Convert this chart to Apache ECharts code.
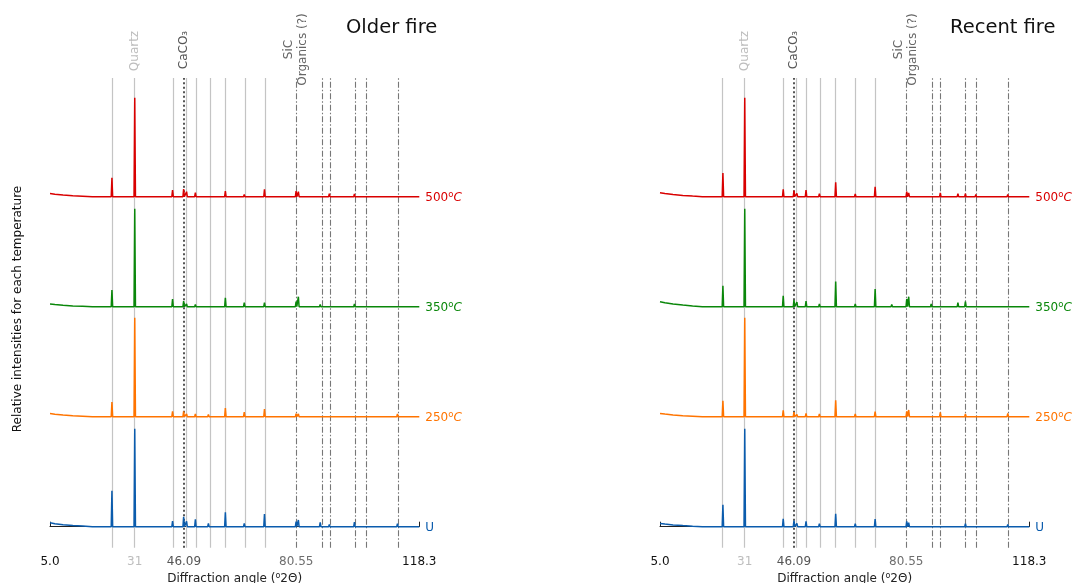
<!DOCTYPE html>
<html>
<head>
<meta charset="utf-8">
<script src="https://cdn.jsdelivr.net/npm/echarts@6/dist/echarts.min.js"></script>
<style>html,body{margin:0;padding:0;background:#fff}#c{width:1072px;height:583px}</style>
</head>
<body>
<div id="c"></div>
<script>
// ---------------- data ----------------
const xMin = 5.0, xMax = 118.3;
const tickValues = [5.0, 31, 46.09, 80.55, 118.3];
const tickLabels = ['5.0', '31', '46.09', '80.55', '118.3'];
const panelTitles = ['Older fire', 'Recent fire'];
const seriesNames = ['U', '250', '350', '500'];   // temperatures in oC (U = unheated)

const quartzLines = [24.2, 31, 42.75, 46.9, 49.75, 54.05, 58.9, 64.95, 71.0];
const caco3Lines = [46.09];
const sicLines = [80.55, 88.55, 91.05, 98.55, 102.05, 111.7];

// Older fire: peak positions (°2Θ) and heights (relative)
const peaksPosOld = [24.0, 31.0, 42.6, 46.0, 46.9, 49.6, 53.6, 58.8, 64.6, 70.8, 75.9, 80.5, 81.2, 87.9, 90.7, 93.5, 96.3, 98.4, 101.7, 106.0, 111.6, 117.8];
const oldU   = [0.36, 0.98, 0.057, 0.10, 0.053, 0.073, 0.033, 0.143, 0.033, 0.127, 0.013, 0.05, 0.067, 0.043, 0.023, 0.01, 0.017, 0.047, 0.02, 0.0, 0.03, 0.017];
const old250 = [0.147, 0.99, 0.053, 0.053, 0.027, 0.027, 0.023, 0.087, 0.047, 0.077, 0.013, 0.03, 0.027, 0.01, 0.017, 0.007, 0.02, 0.02, 0.017, 0.01, 0.027, 0.0];
const old350 = [0.167, 0.98, 0.077, 0.057, 0.027, 0.023, 0.017, 0.09, 0.04, 0.04, 0.017, 0.05, 0.10, 0.023, 0.02, 0.01, 0.01, 0.027, 0.017, 0.0, 0.02, 0.007];
const old500 = [0.19, 0.99, 0.067, 0.077, 0.05, 0.04, 0.02, 0.057, 0.023, 0.073, 0.007, 0.057, 0.05, 0.01, 0.03, 0.013, 0.013, 0.027, 0.01, 0.0, 0.017, 0.007];
const oldStartU   = [[5.0, 0.04], [6.5, 0.03], [9, 0.02], [12, 0.012], [15, 0.006], [18, 0.0]];
const oldStart250 = [[5.0, 0.033], [6.5, 0.025], [9, 0.016], [12, 0.01], [15, 0.005], [18, 0.0]];
const oldStart350 = [[5.0, 0.027], [6.5, 0.022], [9, 0.014], [12, 0.008], [15, 0.004], [18, 0.0]];
const oldStart500 = [[5.0, 0.033], [6.5, 0.025], [9, 0.016], [12, 0.01], [15, 0.005], [18, 0.0]];

// Recent fire
const peaksPosNew = [24.3, 31.0, 42.8, 46.1, 47.0, 49.8, 53.9, 58.9, 64.9, 71.0, 76.1, 80.7, 81.3, 88.2, 91.0, 93.7, 96.4, 98.7, 101.9, 111.7, 117.8];
const newU   = [0.22, 0.98, 0.08, 0.06, 0.033, 0.053, 0.03, 0.13, 0.03, 0.077, 0.013, 0.053, 0.04, 0.013, 0.017, 0.01, 0.013, 0.03, 0.013, 0.023, 0.01];
const new250 = [0.16, 0.99, 0.063, 0.047, 0.023, 0.033, 0.027, 0.163, 0.027, 0.05, 0.013, 0.053, 0.067, 0.013, 0.043, 0.013, 0.017, 0.027, 0.02, 0.033, 0.0];
const new350 = [0.21, 0.98, 0.11, 0.067, 0.047, 0.057, 0.027, 0.253, 0.027, 0.177, 0.023, 0.077, 0.10, 0.027, 0.017, 0.017, 0.04, 0.05, 0.02, 0.017, 0.007];
const new500 = [0.237, 0.99, 0.073, 0.06, 0.033, 0.067, 0.03, 0.143, 0.027, 0.10, 0.01, 0.05, 0.037, 0.013, 0.037, 0.013, 0.03, 0.03, 0.023, 0.023, 0.0];
const newStartU   = [[5.0, 0.033], [6.5, 0.027], [9, 0.018], [12, 0.011], [15, 0.005], [18, 0.0]];
const newStart250 = [[5.0, 0.033], [6.5, 0.026], [9, 0.017], [12, 0.01], [15, 0.005], [18, 0.0]];
const newStart350 = [[5.0, 0.05], [6.5, 0.04], [9, 0.027], [12, 0.016], [15, 0.007], [18, 0.0]];
const newStart500 = [[5.0, 0.04], [6.5, 0.032], [9, 0.021], [12, 0.013], [15, 0.006], [18, 0.0]];

// ---------------- layout / style ----------------
const FONT = 'DejaVu Sans';
const colors = ['#0b5cad', '#ff7400', '#0a870a', '#d90000'];
const offsets = [0, 1.1, 2.2, 3.3];
const peakHalfWidth = 0.22;
const gridLefts = [50, 660];
const gridTop = 78, gridW = 369.3, gridH = 469.7;

const panels = [
  {pos: peaksPosOld, heights: [oldU, old250, old350, old500], starts: [oldStartU, oldStart250, oldStart350, oldStart500]},
  {pos: peaksPosNew, heights: [newU, new250, new350, new500], starts: [newStartU, newStart250, newStart350, newStart500]}
];

function buildTrace(start, pos, h, off) {
  const pts = start.map(p => [p[0], p[1] + off]);
  for (let i = 0; i < pos.length; i++) {
    pts.push([pos[i] - peakHalfWidth, off], [pos[i], h[i] + off], [pos[i] + peakHalfWidth, off]);
  }
  pts.push([xMax, off]);
  return pts;
}

const tickColors = ['#111', '#bdbdbd', '#555', '#6e6e6e', '#111'];
const rich = {};
tickColors.forEach((c, i) => { rich['t' + i] = {color: c, fontSize: 12, fontFamily: FONT}; });

const grids = [], xAxes = [], yAxes = [], series = [];
panels.forEach((p, gi) => {
  grids.push({left: gridLefts[gi], top: gridTop, width: gridW, height: gridH, outerBoundsMode: 'none', containLabel: false});
  xAxes.push({
    type: 'value', gridIndex: gi, min: xMin, max: xMax,
    axisLine: {show: true, lineStyle: {color: '#222', width: 1}},
    axisTick: {show: true, inside: true, length: 5, customValues: tickValues, lineStyle: {color: '#222'}},
    axisLabel: {
      show: true, customValues: tickValues, margin: 8, fontSize: 12, fontFamily: FONT,
      formatter: v => {
        let k = 0, d = 1e9;
        tickValues.forEach((t, i) => { if (Math.abs(t - v) < d) { d = Math.abs(t - v); k = i; } });
        return '{t' + k + '|' + tickLabels[k] + '}';
      },
      rich: rich
    },
    splitLine: {show: false},
    name: '{n|Diffraction angle (}{s|o}{n|2Θ)}', nameLocation: 'middle', nameGap: 22,
    nameMoveOverlap: false,
    nameTextStyle: {
      fontSize: 12, fontFamily: FONT, color: '#222',
      rich: {
        n: {fontSize: 12, fontFamily: FONT, color: '#222', verticalAlign: 'bottom', lineHeight: 15},
        s: {fontSize: 8, fontFamily: FONT, color: '#222', verticalAlign: 'bottom', lineHeight: 15, padding: [0, 0, 5, 0]}
      }
    }
  });
  yAxes.push({type: 'value', gridIndex: gi, min: -0.21, max: 4.487, show: false});

  const ml = [];
  quartzLines.forEach(v => ml.push({xAxis: v, lineStyle: {color: '#c4c4c4', width: 1.2, type: 'solid'}}));
  caco3Lines.forEach(v => ml.push({xAxis: v, lineStyle: {color: '#555', width: 2, type: [2, 2.5]}}));
  sicLines.forEach(v => ml.push({xAxis: v, lineStyle: {color: '#777', width: 1.1, type: [6, 2, 1.5, 2]}}));
  series.push({
    type: 'line', xAxisIndex: gi, yAxisIndex: gi, data: [], z: 1, silent: true,
    markLine: {silent: true, z: 1, symbol: ['none', 'none'], label: {show: false}, animation: false, data: ml}
  });

  p.heights.forEach((h, si) => {
    const nm = seriesNames[si];
    const isTemp = nm !== 'U';
    const c = colors[si];
    series.push({
      type: 'line', name: nm, xAxisIndex: gi, yAxisIndex: gi, z: 10,
      data: buildTrace(p.starts[si], p.pos, h, offsets[si]),
      showSymbol: false, symbol: 'none',
      lineStyle: {color: c, width: 1.5},
      itemStyle: {color: c},
      endLabel: {
        show: true, distance: 6, color: c, fontSize: 12, fontFamily: FONT,
        formatter: () => isTemp ? '{n|' + nm + '}{s|o}{it|C}' : '{n|' + nm + '}',
        rich: {
          n: {color: c, fontSize: 12, fontFamily: FONT, verticalAlign: 'bottom', lineHeight: 15},
          s: {color: c, fontSize: 8.5, fontFamily: FONT, verticalAlign: 'bottom', lineHeight: 15, padding: [0, 0, 5, 0]},
          it: {color: c, fontSize: 12, fontFamily: FONT, fontStyle: 'italic', verticalAlign: 'bottom', lineHeight: 15}
        }
      }
    });
  });
});

const chart = echarts.init(document.getElementById('c'), null, {renderer: 'canvas'});
chart.setOption({
  animation: false,
  backgroundColor: '#fff',
  grid: grids, xAxis: xAxes, yAxis: yAxes, series: series
});

// text annotations placed from axis coordinates
const graphics = [];
const titleX = [346, 950];
panelTitles.forEach((t, gi) => {
  graphics.push({type: 'text', x: titleX[gi], y: 28, style: {text: t, fontSize: 19.5, fontFamily: FONT, fill: '#111', textAlign: 'left', textVerticalAlign: 'middle'}});
  const px = v => chart.convertToPixel({xAxisIndex: gi}, v);
  graphics.push({type: 'text', x: px(31), y: 51, rotation: Math.PI / 2, style: {text: 'Quartz', fontSize: 12, fontFamily: FONT, fill: '#bdbdbd', textAlign: 'center', textVerticalAlign: 'middle'}});
  graphics.push({type: 'text', x: px(46.09), y: 50, rotation: Math.PI / 2, style: {text: 'CaCO₃', fontSize: 12, fontFamily: FONT, fill: '#555', textAlign: 'center', textVerticalAlign: 'middle'}});
  graphics.push({type: 'text', x: px(80.55), y: 49.5, rotation: Math.PI / 2, style: {text: 'SiC\nOrganics (?)', fontSize: 12, fontFamily: FONT, fill: '#666', textAlign: 'center', textVerticalAlign: 'middle', lineHeight: 14}});
});
graphics.push({type: 'text', x: 18, y: 309, rotation: Math.PI / 2, style: {text: 'Relative intensities for each temperature', fontSize: 12, fontFamily: FONT, fill: '#111', textAlign: 'center', textVerticalAlign: 'middle'}});
chart.setOption({graphic: graphics});
</script>
</body>
</html>
